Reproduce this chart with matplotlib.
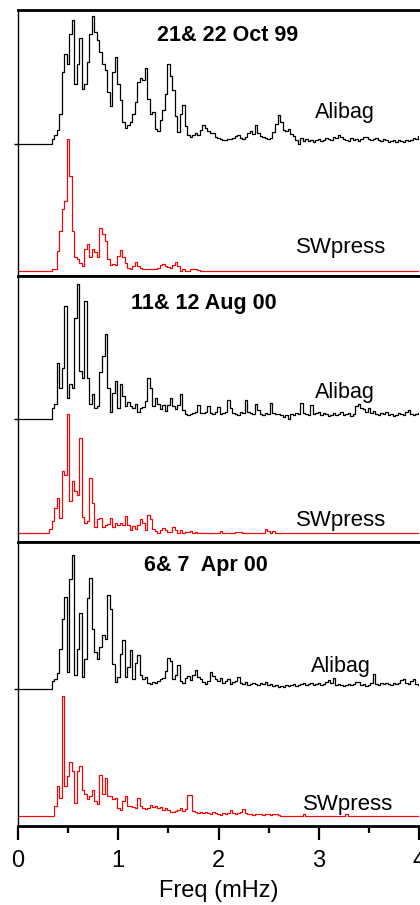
import numpy as np
import matplotlib
matplotlib.use('Agg')
import matplotlib.pyplot as plt

plt.rcParams['font.family'] = ['Liberation Sans', 'DejaVu Sans']

# frequency grid, mHz (0.025 mHz spacing)
freq = np.arange(161) * 0.025

# spectral power, arbitrary units
# --- 21 & 22 Oct 99 ---
alibag_oct = [0]*12 + [
    0, 0, 5, 9, 14, 30, 72, 90, 80, 110, 124, 60, 80, 106, 55, 60, 82, 110, 128, 112,
    104, 92, 80, 74, 52, 38, 72, 87, 60, 44, 22, 16, 19, 22, 30, 42, 62, 66, 64, 76,
    45, 30, 32, 15, 13, 24, 34, 50, 80, 68, 54, 28, 12, 30, 39, 18, 9, 7, 9, 11,
    9, 14, 19, 16, 13, 11, 11, 7, 6, 5, 4, 4, 5, 5, 6, 8, 9, 6, 5, 7,
    11, 13, 10, 19, 11, 8, 7, 6, 5, 6, 12, 20, 29, 22, 14, 13, 15, 10, 8, 4,
    0, 6, 3, 5, 3, 4, 2, 4, 5, 3, 4, 6, 5, 4, 7, 6, 9, 7, 5, 4,
    3, 6, 4, 5, 3, 5, 7, 7, 5, 4, 5, 6, 4, 3, 5, 4, 2, 3, 4, 2,
    4, 3, 2, 4, 3, 4, 6, 5, 8]
swpress_oct = [0]*12 + [
    0, 0, 2, 2, 20, 40, 62, 70, 132, 95, 40, 14, 12, 8, 5, 22, 27, 14, 22, 19,
    14, 43, 37, 30, 12, 6, 7, 6, 15, 21, 14, 8, 3, 2, 5, 9, 5, 3, 2, 2,
    2, 2, 2, 2, 3, 6, 7, 5, 4, 3, 6, 9, 5, 0, 2, 0, 0, 2, 2, 2,
    1, 0, 0, 0, 0, 0, 0, 0, 0, 0, 0, 0, 0, 0, 0, 0, 0, 0, 0, 0,
    0, 0, 0, 0, 0, 0, 0, 0, 0, 0, 0, 0, 0, 0, 0, 0, 0, 0, 0, 0,
    0, 0, 0, 0, 0, 0, 0, 0, 0, 0, 0, 0, 0, 0, 0, 0, 0, 0, 0, 0,
    0, 0, 0, 0, 0, 0, 0, 0, 0, 0, 0, 0, 0, 0, 0, 0, 0, 0, 0, 0,
    0, 0, 0, 0, 0, 0, 0, 0, 0]

# --- 11 & 12 Aug 00 ---
alibag_aug = [0]*12 + [
    0, 0, 10, 14, 55, 30, 50, 112, 20, 34, 30, 100, 134, 47, 40, 117, 40, 14, 24, 10,
    12, 46, 62, 84, 30, 6, 25, 37, 10, 34, 22, 12, 16, 12, 10, 14, 6, 10, 11, 17,
    40, 30, 12, 20, 14, 9, 13, 7, 13, 20, 12, 9, 13, 24, 8, 4, 3, 4, 5, 6,
    13, 5, 5, 6, 12, 5, 4, 6, 11, 4, 5, 6, 18, 10, 5, 4, 3, 6, 5, 18,
    6, 5, 4, 14, 8, 4, 3, 5, 4, 15, 5, 4, 4, 3, 1, 3, 0, 4, 3, 5,
    4, 15, 5, 4, 3, 13, 4, 5, 6, 3, 5, 4, 2, 3, 5, 3, 4, 6, 3, 4,
    5, 2, 4, 12, 14, 10, 9, 6, 10, 5, 7, 4, 3, 5, 4, 6, 3, 4, 2, 3,
    5, 4, 3, 6, 8, 4, 3, 4, 5]
swpress_aug = [0]*12 + [
    0, 4, 12, 25, 35, 15, 62, 58, 118, 32, 52, 42, 38, 95, 16, 10, 12, 55, 30, 6,
    14, 15, 6, 8, 9, 15, 6, 10, 8, 10, 8, 17, 8, 3, 7, 4, 8, 14, 10, 3,
    18, 14, 4, 2, 0, 3, 5, 3, 1, 1, 6, 3, 0, 3, 0, 1, 1, 2, 0, 1,
    0, 0, 0, 0, 0, 0, 0, 0, 0, 2, 0, 0, 0, 0, 0, 1, 1, 1, 0, 0,
    0, 0, 0, 0, 0, 0, 0, 4, 2, 0, 2, 0, 0, 0, 0, 0, 0, 0, 0, 0,
    0, 0, 0, 0, 0, 0, 0, 0, 0, 0, 0, 0, 0, 0, 0, 0, 0, 0, 0, 0,
    0, 0, 0, 0, 0, 0, 0, 0, 0, 0, 0, 0, 0, 0, 0, 0, 0, 0, 0, 0,
    0, 0, 0, 0, 0, 0, 0, 0, 0]

# --- 6 & 7 Apr 00 ---
alibag_apr = [0]*12 + [
    0, 0, 8, 10, 16, 40, 70, 92, 17, 110, 134, 14, 40, 76, 12, 30, 91, 111, 60, 37,
    30, 42, 54, 50, 94, 80, 25, 7, 12, 35, 49, 12, 22, 39, 10, 26, 34, 14, 10, 12,
    6, 5, 7, 6, 8, 10, 11, 18, 31, 28, 10, 14, 24, 8, 6, 11, 13, 9, 14, 19,
    12, 10, 7, 5, 8, 17, 13, 10, 8, 11, 6, 8, 10, 5, 7, 8, 12, 6, 5, 7,
    4, 5, 6, 5, 4, 6, 5, 7, 4, 5, 3, 4, 2, 3, 2, 4, 3, 4, 5, 3,
    4, 5, 6, 4, 5, 6, 4, 5, 6, 4, 5, 7, 9, 6, 11, 4, 5, 4, 3, 4,
    5, 4, 5, 7, 7, 4, 5, 3, 4, 6, 15, 5, 4, 6, 5, 6, 5, 4, 6, 5,
    6, 9, 10, 6, 5, 8, 10, 5, 4]
swpress_apr = [0]*12 + [
    0, 0, 0, 10, 30, 18, 120, 30, 40, 54, 45, 13, 45, 50, 26, 22, 17, 20, 26, 15,
    12, 41, 22, 38, 20, 20, 17, 18, 8, 6, 15, 20, 10, 10, 9, 8, 18, 10, 8, 7,
    8, 11, 9, 10, 8, 9, 6, 8, 6, 4, 4, 5, 6, 8, 5, 7, 21, 21, 5, 4,
    3, 4, 3, 4, 3, 2, 4, 3, 2, 1, 3, 2, 3, 6, 3, 2, 3, 4, 7, 3,
    2, 2, 1, 2, 2, 2, 1, 2, 2, 1, 2, 2, 1, 0, 0, 0, 0, 0, 0, 0,
    0, 0, 2, 0, 0, 0, 0, 0, 0, 0, 0, 0, 0, 0, 0, 0, 0, 0, 0, 2,
    0, 0, 0, 0, 0, 0, 0, 0, 0, 0, 0, 0, 0, 0, 0, 0, 0, 0, 0, 0,
    0, 0, 0, 0, 0, 0, 0, 0, 0]

titles = ['21& 22 Oct 99', '11& 12 Aug 00', '6& 7  Apr 00']
alibag = [alibag_oct, alibag_aug, alibag_apr]
swpress = [swpress_oct, swpress_aug, swpress_apr]

# layout per panel: vertical offset of Alibag trace, y limits, label positions
offsets = [127, 114, 127]
ylims = [(-5, 261), (-9, 256), (-10, 274)]
title_pos = [(2.09, 236), (1.85, 229), (1.875, 250)]
alibag_pos = [(3.26, 159), (3.26, 140), (3.22, 149)]
sw_pos = [(3.22, 24), (3.22, 12), (3.29, 11)]

fig = plt.figure(figsize=(4.2, 9.05), dpi=100)
gs = fig.add_gridspec(3, 1, height_ratios=[266, 265, 284], hspace=0,
                      left=18/420, right=0.998, top=1-10/905, bottom=1-826/905)

for k in range(3):
    ax = fig.add_subplot(gs[k])
    ax.plot(freq, np.array(alibag[k]) + offsets[k], color='black', lw=0.9,
            drawstyle='steps-mid')
    ax.plot(freq, swpress[k], color='#ff0000', lw=0.85, drawstyle='steps-mid')
    ax.set_xlim(0, 4)
    ax.set_ylim(*ylims[k])
    ax.spines['right'].set_visible(False)
    ax.spines['top'].set_linewidth(2.0)
    ax.spines['left'].set_linewidth(1.0)
    ax.spines['bottom'].set_linewidth(2.0)
    ax.set_yticks([offsets[k]])
    ax.set_yticklabels([])
    ax.tick_params(axis='y', direction='out', length=3, width=1)
    ax.text(*title_pos[k], titles[k], ha='center', va='center',
            fontsize=15.5, fontweight='bold')
    ax.text(*alibag_pos[k], 'Alibag', ha='center', va='center', fontsize=15.5)
    ax.text(*sw_pos[k], 'SWpress', ha='center', va='center', fontsize=16)
    if k < 2:
        ax.set_xticks([])
    else:
        ax.set_xticks([0, 1, 2, 3, 4])
        ax.set_xticks([0.5, 1.5, 2.5, 3.5], minor=True)
        ax.tick_params(axis='x', which='major', direction='out', length=10,
                       width=1.6, labelsize=17, pad=7)
        ax.tick_params(axis='x', which='minor', direction='out', length=5,
                       width=1.6)
        ax.set_xlabel('Freq (mHz)', fontsize=17, labelpad=6)

fig.savefig('out.png', dpi=100)
